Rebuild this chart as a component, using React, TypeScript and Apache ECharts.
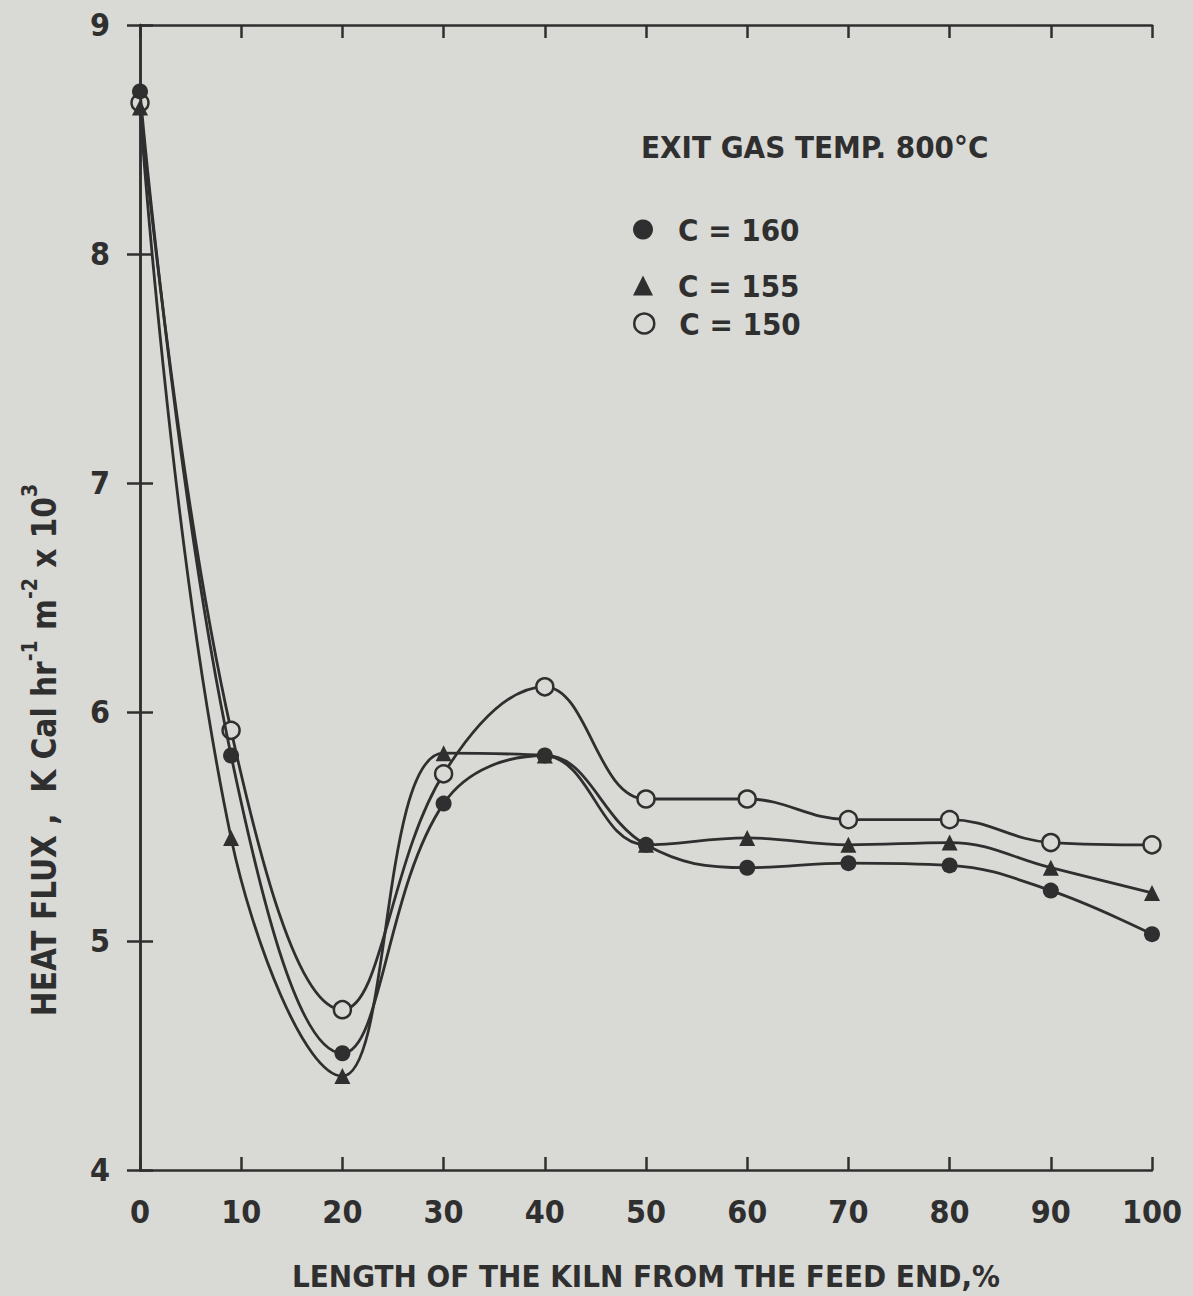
import React, { useEffect, useRef } from "react";
import * as echarts from "echarts";

const lengthPct = [0, 9, 20, 30, 40, 50, 60, 70, 80, 90, 100];
const c160 = [8.71, 5.81, 4.51, 5.6, 5.81, 5.42, 5.32, 5.34, 5.33, 5.22, 5.03];
const c155 = [8.64, 5.45, 4.41, 5.82, 5.81, 5.42, 5.45, 5.42, 5.43, 5.32, 5.21];
const c150 = [8.66, 5.92, 4.7, 5.73, 6.11, 5.62, 5.62, 5.53, 5.53, 5.43, 5.42];
const seriesNames = ["C = 160", "C = 155", "C = 150"];

const BG = "#d9d9d6";
const INK = "#2f2f2f";
const FONT = "'DejaVu Sans Condensed', 'Liberation Sans Narrow', sans-serif";

const pairs = (ys: number[]) => lengthPct.map((x, i) => [x, ys[i]]);

export default function App() {
  const ref = useRef<HTMLDivElement>(null);
  useEffect(() => {
    document.body.style.margin = "0";
    const chart = echarts.init(ref.current!, null, { renderer: "svg" });
    const axisLine = { show: true, lineStyle: { color: INK, width: 2.5 } };
    const tick = { show: true, inside: true, length: 13, lineStyle: { color: INK, width: 2.5 } };
    const label = { color: INK, fontSize: 32, fontWeight: "bold", fontFamily: FONT };
    const lineCommon = {
      type: "line" as const,
      smooth: 0.4,
      lineStyle: { color: INK, width: 2.8 },
      symbolSize: 16,
    };
    chart.setOption({
      animation: false,
      backgroundColor: BG,
      title: {
        text: "EXIT GAS TEMP. 800°C",
        left: 636,
        top: 126,
        textStyle: { color: INK, fontSize: 31, fontWeight: "bold", fontFamily: FONT },
      },
      legend: [
        {
          data: [{ name: seriesNames[0], icon: "circle", itemStyle: { color: INK } }],
          left: 633,
          top: 214,
        },
        {
          data: [{ name: seriesNames[1], icon: "triangle", itemStyle: { color: INK } }],
          left: 633,
          top: 270,
        },
        {
          data: [
            {
              name: seriesNames[2],
              icon: "circle",
              itemStyle: { color: BG, borderColor: INK, borderWidth: 2.5 },
            },
          ],
          left: 633,
          top: 308,
        },
      ].map((l) => ({
        ...l,
        padding: 0,
        itemWidth: 20,
        itemHeight: 20,
        textStyle: {
          color: INK,
          fontSize: 31,
          fontWeight: "bold",
          fontFamily: FONT,
          padding: [0, 0, 0, 20],
        },
      })),
      grid: { left: 140, right: 41, top: 25, bottom: 114, containLabel: false },
      xAxis: [
        {
          type: "value",
          min: 0,
          max: 100,
          interval: 10,
          position: "bottom",
          axisLine,
          axisTick: tick,
          splitLine: { show: false },
          axisLabel: { ...label, margin: 26 },
          name: "LENGTH OF THE KILN FROM THE FEED END,%",
          nameLocation: "middle",
          nameGap: 90,
          nameTextStyle: { color: INK, fontSize: 31, fontWeight: "bold", fontFamily: FONT },
        },
        {
          type: "value",
          min: 0,
          max: 100,
          interval: 10,
          position: "top",
          axisLine,
          axisTick: tick,
          splitLine: { show: false },
          axisLabel: { show: false },
        },
      ],
      yAxis: [
        {
          type: "value",
          min: 4,
          max: 9,
          interval: 1,
          position: "left",
          axisLine,
          axisTick: tick,
          splitLine: { show: false },
          axisLabel: { ...label, margin: 30 },
        },
        {
          type: "value",
          min: 4,
          max: 9,
          interval: 1,
          position: "right",
          axisLine,
          axisTick: tick,
          splitLine: { show: false },
          axisLabel: { show: false },
        },
      ],
      graphic: [
        {
          type: "text",
          x: 40,
          y: 750,
          rotation: Math.PI / 2,
          style: {
            text: "{a|HEAT FLUX ,  K Cal hr}{s|-1}{a| m}{s|-2}{a| x 10}{s|3}",
            align: "center",
            verticalAlign: "middle",
            fill: INK,
            rich: {
              a: {
                fontSize: 33,
                fontWeight: "bold",
                fontFamily: FONT,
                fill: INK,
                lineHeight: 42,
                verticalAlign: "bottom",
              },
              s: {
                fontSize: 21,
                fontWeight: "bold",
                fontFamily: FONT,
                fill: INK,
                lineHeight: 42,
                verticalAlign: "top",
              },
            },
          },
        },
      ],
      series: [
        {
          ...lineCommon,
          name: seriesNames[2],
          symbol: "circle",
          symbolSize: 17,
          z: 2,
          itemStyle: { color: BG, borderColor: INK, borderWidth: 2.5 },
          data: pairs(c150),
        },
        {
          ...lineCommon,
          name: seriesNames[1],
          symbol: "triangle",
          z: 3,
          itemStyle: { color: INK },
          data: pairs(c155),
        },
        {
          ...lineCommon,
          name: seriesNames[0],
          symbol: "circle",
          z: 4,
          itemStyle: { color: INK },
          data: pairs(c160),
        },
      ],
    });
    return () => chart.dispose();
  }, []);
  return <div ref={ref} style={{ width: 1193, height: 1296 }} />;
}
